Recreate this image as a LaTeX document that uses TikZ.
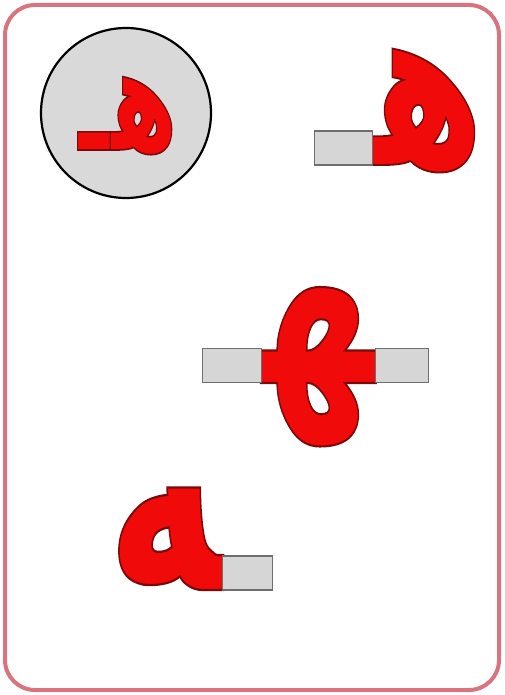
\documentclass[tikz,border=0pt]{standalone}
\usepackage{fontspec}
\newfontfamily\arabicfont[Script=Arabic]{DejaVu Sans}
\TeXXeTstate=1
\definecolor{cardpink}{HTML}{D9737D}
\definecolor{discgray}{HTML}{D9D9D9}
\definecolor{bargray}{HTML}{D6D6D6}
\definecolor{bardark}{HTML}{6E6E6E}
\definecolor{glyphred}{HTML}{F00A0A}
\tikzset{
  card/.style={draw=cardpink, line width=4pt, rounded corners=30pt},
  disc/.style={circle, draw=black, line width=2.2pt, fill=discgray, minimum size=170pt, inner sep=0pt},
  bar/.style={draw=bardark, line width=1.2pt, fill=bargray, inner sep=0pt, minimum height=34pt},
  glyph/.style={text=glyphred, inner sep=0pt, font=\arabicfont\bfseries\fontsize{200}{200}\selectfont},
  smallglyph/.style={glyph, font=\arabicfont\bfseries\fontsize{145}{145}\selectfont},
}
\newcommand\outlined[1]{\special{pdf:code q 2 Tr 1.6 w 0.48 0.04 0.04 RG}#1\special{pdf:code Q}}
\begin{document}
\begin{tikzpicture}[x=1pt,y=-1pt]
\useasboundingbox (0,0) rectangle (504,695);
\draw[card] (5,5) rectangle (499,690);
\node[disc] (disc) at (126,113) {};
\node[smallglyph, anchor=base] (isolated) at (128,150) {\outlined{\scalebox{0.66}[1.0]{\beginR هـ\endR}}};
% initial form
\node[glyph, anchor=base west] (initial) at (373,165) {\outlined{\scalebox{0.8}[1.15]{\beginR ه\char"200D\endR}}};
\node[bar, minimum width=58pt, anchor=east] (barA) at ([yshift=17pt]initial.base west) {};
% medial form
\node[glyph, anchor=base west] (medial) at (262,383) {\outlined{\scalebox{0.85}[1.3]{\beginR \char"200Dه\char"200D\endR}}};
\node[bar, minimum width=59pt, anchor=east] (barB) at ([yshift=17.5pt]medial.base west) {};
\node[bar, minimum width=53pt, anchor=west] (barC) at ([yshift=17.5pt]medial.base east) {};
% final form
\node[glyph, anchor=base east] (final) at (222,590) {\outlined{\scalebox{0.95}[1.4]{\beginR \char"200Dه\endR}}};
\node[bar, minimum width=50pt, anchor=west] (barD) at ([yshift=17pt]final.base east) {};
\end{tikzpicture}
\end{document}
